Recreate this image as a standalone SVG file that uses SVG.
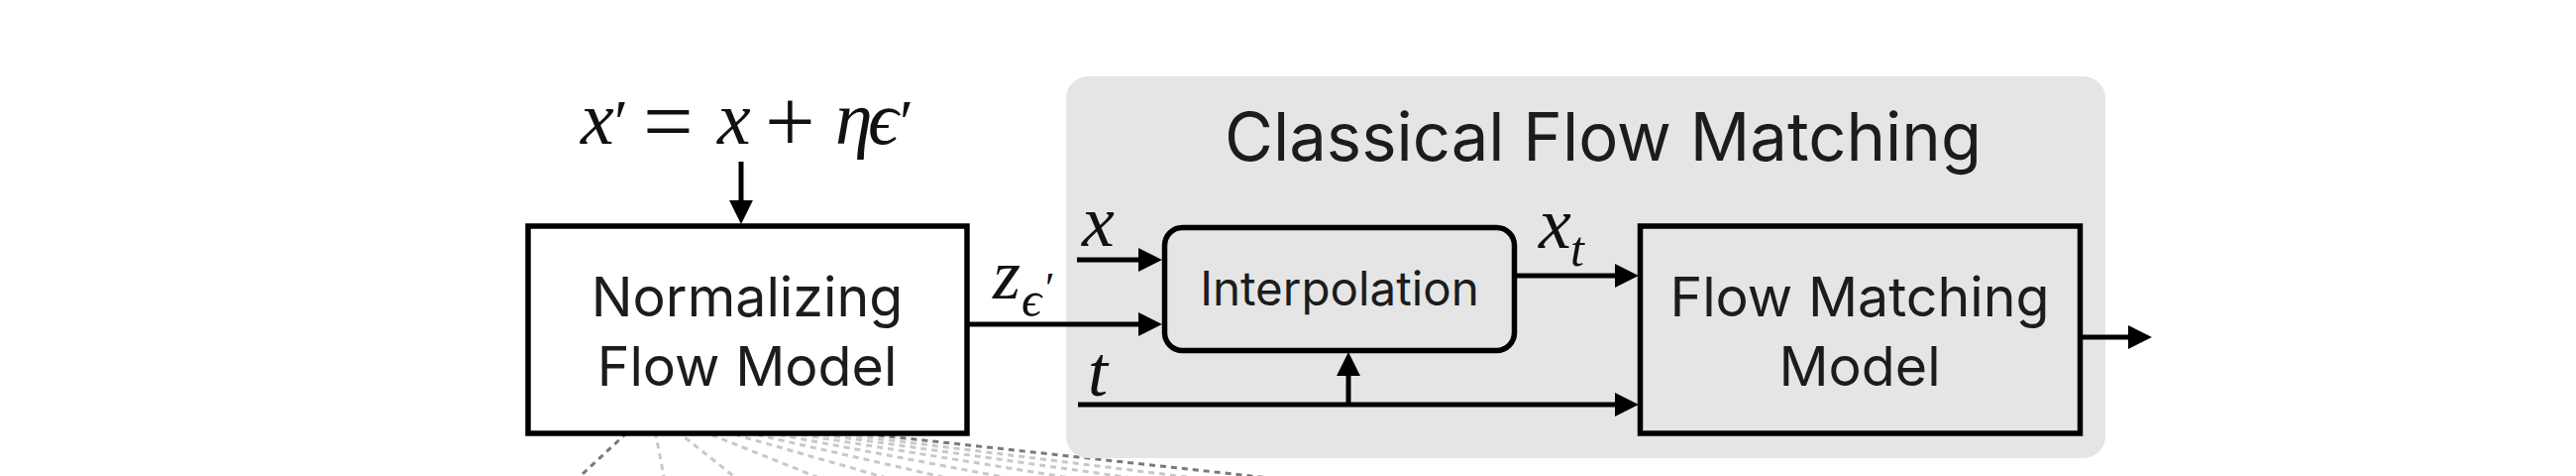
<svg xmlns="http://www.w3.org/2000/svg" width="2600" height="480" viewBox="0 0 2600 480">
<style>
.lbl{font-family:Inter,"Liberation Sans",sans-serif;fill:#1c1c1c;}
.m{font-family:"Liberation Serif","DejaVu Serif",serif;font-style:italic;fill:#111;}
.r{font-family:"Liberation Serif","DejaVu Serif",serif;fill:#111;}
.box{stroke:#000;stroke-width:5.5;}
.cn{stroke:#000;stroke-width:5;fill:none;}
.dk{stroke:#7a7a7a;stroke-width:3;stroke-dasharray:6 5;fill:none;}
.lt{stroke:#c8c8c8;stroke-width:3;stroke-dasharray:6 5;fill:none;}
</style>
<defs>
<marker id="ah" markerUnits="userSpaceOnUse" markerWidth="24" markerHeight="24" viewBox="0 0 22 22" refX="12" refY="11" orient="auto">
<path d="M0,0 L22,11 L0,22 z" fill="#000"/>
</marker>
</defs>
<rect width="2600" height="480" fill="#fff"/>
<g id="zoom-lines">
<line class="lt" x1="657" y1="414" x2="672" y2="490"/>
<line class="lt" x1="657" y1="414" x2="753" y2="490"/>
<line class="lt" x1="657" y1="414" x2="847" y2="490"/>
<line class="lt" x1="657" y1="414" x2="923" y2="490"/>
<line class="lt" x1="657" y1="414" x2="991" y2="490"/>
<line class="lt" x1="657" y1="414" x2="1060" y2="490"/>
<line class="lt" x1="657" y1="414" x2="1130" y2="490"/>
<line class="lt" x1="657" y1="414" x2="1200" y2="490"/>
<line class="lt" x1="657" y1="414" x2="1270" y2="490"/>
<line class="dk" x1="657" y1="414" x2="575" y2="490"/>
<line class="dk" x1="657" y1="414" x2="1355" y2="490"/>
</g>
<g id="panel">
<rect x="1076" y="77" width="1049" height="385" rx="22" fill="#e5e5e5"/>
<text class="lbl" x="1618" y="162" font-size="67" text-anchor="middle">Classical Flow Matching</text>
</g>
<g id="equation">
<text class="m" x="586" y="145" font-size="76">x</text>
<text class="r" x="620" y="145" font-size="64">′</text>
<text class="r" x="649" y="153" font-size="90">=</text>
<text class="m" x="724" y="145" font-size="76">x</text>
<text class="r" x="772" y="153" font-size="90">+</text>
<text class="m" x="843" y="145" font-size="76">η</text>
<text class="m" x="876" y="145" font-size="76">ϵ</text>
<text class="r" x="908" y="145" font-size="64">′</text>
</g>
<g id="nf-model">
<rect class="box" x="533" y="228" width="443" height="209" fill="#fff"/>
<text class="lbl" x="754" y="319" font-size="55.5" text-anchor="middle">Normalizing</text>
<text class="lbl" x="754" y="389" font-size="55.5" text-anchor="middle">Flow Model</text>
</g>
<g id="interpolation">
<rect class="box" x="1175.5" y="229.5" width="353" height="124" rx="18" fill="none" stroke-width="5"/>
<text class="lbl" x="1352" y="308" font-size="47.5" text-anchor="middle">Interpolation</text>
</g>
<g id="fm-model">
<rect class="box" x="1655.5" y="228" width="444" height="209" fill="none"/>
<text class="lbl" x="1877" y="319" font-size="55.5" text-anchor="middle">Flow Matching</text>
<text class="lbl" x="1877" y="389" font-size="55.5" text-anchor="middle">Model</text>
</g>
<g id="connectors">
<line class="cn" x1="748" y1="163" x2="748" y2="215" marker-end="url(#ah)"/>
<line class="cn" x1="978" y1="327" x2="1162" y2="327" marker-end="url(#ah)"/>
<line class="cn" x1="1087" y1="262" x2="1162" y2="262" marker-end="url(#ah)"/>
<line class="cn" x1="1088" y1="408" x2="1643" y2="408" marker-end="url(#ah)"/>
<line class="cn" x1="1361" y1="408" x2="1361" y2="366" marker-end="url(#ah)"/>
<line class="cn" x1="1531" y1="278" x2="1643" y2="278" marker-end="url(#ah)"/>
<line class="cn" x1="2102" y1="340" x2="2161" y2="340" marker-end="url(#ah)"/>
</g>
<g id="edge-labels">
<text class="m" x="1002" y="301" font-size="72">z</text>
<text class="m" x="1031" y="319" font-size="50">ϵ</text>
<text class="r" x="1055" y="305" font-size="44">′</text>
<text class="m" x="1092" y="248" font-size="74">x</text>
<text class="m" x="1098" y="399" font-size="72">t</text>
<text class="m" x="1553" y="250" font-size="74">x</text>
<text class="m" x="1585" y="268" font-size="50">t</text>
</g>
</svg>
